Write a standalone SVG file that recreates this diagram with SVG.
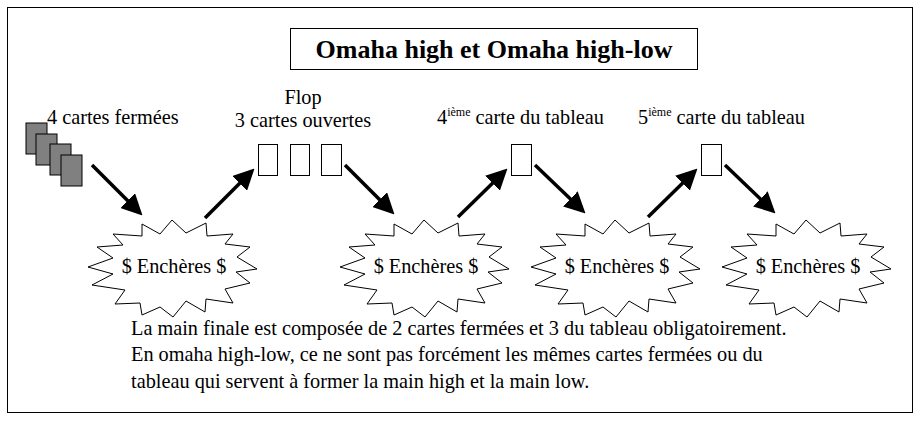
<svg xmlns="http://www.w3.org/2000/svg" width="920" height="424" viewBox="0 0 920 424">
<style>
text{font-family:'Liberation Serif','Times New Roman',Tinos,'DejaVu Serif',serif;font-size:20.3px;fill:#000}
.burst{fill:#fff;stroke:#000;stroke-width:1}
.card{fill:#fff;stroke:#000;stroke-width:1}
.back{fill:#808080;stroke:#000;stroke-width:1}
.arr{stroke:#000;stroke-width:3.5;fill:none;marker-end:url(#ah)}
</style>
<defs>
<marker id="ah" markerWidth="6" markerHeight="6" refX="5" refY="3" orient="auto" markerUnits="strokeWidth"><path d="M0,0 L6,3 L0,6 z" fill="#000"/></marker>
<path id="bp" d="M-32,-42 L-14,-32 L-2,-46 L12,-33 L32,-43 L33,-30 L59,-32 L51,-22 L76,-19 L63,-9 L83,3 L62,6 L76,17 L51,23 L59,37 L32,33 L31,46 L12,35 L-1,51 L-14,41 L-32,49 L-34,37 L-59,38 L-49,24 L-82,19 L-61,8 L-86,1 L-61,-8 L-77,-19 L-51,-21 L-61,-32 L-32,-30 Z"/>
</defs>
<rect x="7.5" y="7.5" width="905" height="405" fill="#fff" stroke="#000"/>
<g id="title"><rect x="290.5" y="28.5" width="407" height="41" fill="#fff" stroke="#000"/><text x="494" y="58" text-anchor="middle" style="font-size:26px;font-weight:bold">Omaha high et Omaha high-low</text></g>
<g id="hole">
<rect class="back" x="26" y="123" width="21" height="31"/><rect class="back" x="36" y="134" width="21" height="31"/><rect class="back" x="50" y="144" width="21" height="31"/><rect class="back" x="61" y="155" width="21" height="31"/>
<text x="47" y="124">4 cartes fermées</text></g>
<g id="flop"><text x="303" y="104" text-anchor="middle">Flop</text><text x="303" y="127" text-anchor="middle">3 cartes ouvertes</text>
<rect class="card" x="258.5" y="144.5" width="19" height="31"/><rect class="card" x="290.5" y="144.5" width="19" height="31"/><rect class="card" x="321.5" y="144.5" width="20" height="31"/></g>
<g id="turn"><text x="437" y="124">4<tspan dy="-8" style="font-size:12px">ième</tspan><tspan dy="8"> carte du tableau</tspan></text><rect class="card" x="511.5" y="144.5" width="20" height="31"/></g>
<g id="river"><text x="638" y="124">5<tspan dy="-8" style="font-size:12px">ième</tspan><tspan dy="8"> carte du tableau</tspan></text><rect class="card" x="701.5" y="144.5" width="20" height="31"/></g>
<g id="b1"><use href="#bp" class="burst" x="174" y="266"/><text x="174" y="273" text-anchor="middle">$ Enchères $</text></g>
<g id="b2"><use href="#bp" class="burst" x="426" y="266"/><text x="426" y="273" text-anchor="middle">$ Enchères $</text></g>
<g id="b3"><use href="#bp" class="burst" x="617" y="266"/><text x="617" y="273" text-anchor="middle">$ Enchères $</text></g>
<g id="b4"><use href="#bp" class="burst" x="808" y="266"/><text x="808" y="273" text-anchor="middle">$ Enchères $</text></g>
<g id="connectors">
<line class="arr" x1="92" y1="165" x2="140" y2="213"/>
<line class="arr" x1="205" y1="218" x2="252" y2="171"/>
<line class="arr" x1="345" y1="165" x2="392" y2="212"/>
<line class="arr" x1="458" y1="217" x2="505" y2="171"/>
<line class="arr" x1="535" y1="165" x2="583" y2="211"/>
<line class="arr" x1="648" y1="217" x2="695" y2="171"/>
<line class="arr" x1="725" y1="165" x2="773" y2="211"/>
</g>
<g id="note">
<text x="131" y="335">La main finale est composée de 2 cartes fermées et 3 du tableau obligatoirement.</text>
<text x="131" y="361">En omaha high-low, ce ne sont pas forcément les mêmes cartes fermées ou du</text>
<text x="131" y="388">tableau qui servent à former la main high et la main low.</text>
</g>
</svg>
